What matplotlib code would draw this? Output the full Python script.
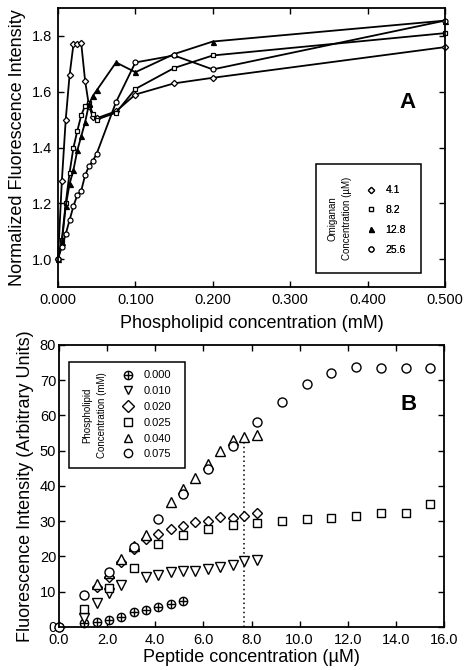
import matplotlib
matplotlib.use('Agg')
import matplotlib.pyplot as plt
from matplotlib.lines import Line2D
from matplotlib.patches import Rectangle

plt.rcParams['font.family'] = ['Liberation Sans', 'DejaVu Sans']

# ---- panel A data: normalized fluorescence vs phospholipid (mM)
lipid_a = [0.0, 0.005, 0.010, 0.015, 0.020, 0.025, 0.030, 0.035, 0.040, 0.045,
           0.050, 0.075, 0.100, 0.150, 0.200, 0.500]
a_41 = [1.00, 1.28, 1.50, 1.66, 1.77, 1.77, 1.775, 1.64, 1.55, 1.51,
        1.505, 1.53, 1.59, 1.63, 1.65, 1.76]
a_82 = [1.00, 1.07, 1.20, 1.31, 1.40, 1.46, 1.515, 1.55, 1.56, 1.52,
        1.50, 1.525, 1.61, 1.685, 1.73, 1.81]
a_128 = [1.00, 1.06, 1.19, 1.27, 1.32, 1.39, 1.44, 1.49, 1.555, 1.585,
         1.605, 1.705, 1.67, 1.735, 1.78, 1.855]
a_256 = [1.00, 1.045, 1.09, 1.14, 1.19, 1.23, 1.245, 1.30, 1.333, 1.352,
         1.378, 1.563, 1.705, 1.73, 1.68, 1.855]
a_labels = ['4.1', '8.2', '12.8', '25.6']

# ---- panel B data: fluorescence vs peptide (uM)
x_000 = [0.0, 1.05, 1.57, 2.07, 2.58, 3.10, 3.62, 4.13, 4.64, 5.16]
y_000 = [0.0, 1.0, 1.3, 2.0, 2.8, 4.2, 4.8, 5.8, 6.5, 7.5]
x_010 = [1.05, 1.57, 2.07, 2.58, 3.62, 4.13, 4.64, 5.16, 5.67, 6.18, 6.70, 7.21, 7.70, 8.24]
y_010 = [2.5, 6.9, 9.6, 12.0, 14.3, 14.8, 15.5, 15.8, 16.0, 16.5, 17.0, 17.7, 18.6, 19.1]
x_020 = [1.57, 2.07, 2.58, 3.10, 3.62, 4.13, 4.64, 5.16, 5.67, 6.18, 6.70, 7.21, 7.70, 8.24]
y_020 = [11.3, 14.3, 18.5, 22.2, 25.0, 26.3, 27.7, 28.7, 29.7, 30.2, 31.2, 31.0, 31.4, 32.2]
x_025 = [1.05, 2.07, 3.10, 4.13, 5.16, 6.18, 7.21, 8.24, 9.27, 10.29, 11.31, 12.34, 13.38, 14.41, 15.43]
y_025 = [5.0, 11.2, 16.7, 23.6, 26.2, 27.8, 28.8, 29.5, 30.0, 30.7, 31.0, 31.6, 32.2, 32.4, 34.8]
x_040 = [1.57, 2.07, 2.58, 3.10, 3.62, 4.64, 5.16, 5.67, 6.18, 6.70, 7.21, 7.70, 8.24]
y_040 = [12.3, 15.3, 19.3, 23.0, 26.0, 35.4, 39.2, 42.4, 46.3, 49.8, 53.1, 53.8, 54.4]
x_075 = [0.0, 1.05, 2.07, 3.10, 4.13, 5.16, 6.18, 7.21, 8.24, 9.27, 10.29, 11.31, 12.34, 13.38, 14.41, 15.43]
y_075 = [0.0, 9.1, 15.7, 22.8, 30.7, 37.6, 44.9, 51.4, 58.2, 63.7, 68.9, 72.1, 73.7, 73.4, 73.5, 73.5]
b_labels = ['0.000', '0.010', '0.020', '0.025', '0.040', '0.075']
mark_x = 7.70   # dotted guide line
mark_y = 53.6

fig = plt.figure(figsize=(4.71, 6.70), dpi=100, facecolor='white')
axA = fig.add_axes([0.1231, 0.5716, 0.8217, 0.4164])
axB = fig.add_axes([0.1253, 0.0642, 0.8174, 0.4209])

def style(ax):
    for s in ax.spines.values():
        s.set_linewidth(1.3)
    ax.tick_params(direction='in', top=True, right=True, length=4, width=1,
                   labelsize=10.5, pad=4)

# ---------------- panel A
mk = dict(color='black', lw=1.3, markeredgecolor='black', markeredgewidth=0.9)
series_a = [(a_41, 'D', 'white', 3.2), (a_82, 's', 'white', 3.4),
            (a_128, '^', 'black', 3.6), (a_256, 'o', 'white', 3.6)]
for ys, m, fc, ms in series_a:
    axA.plot(lipid_a, ys, marker=m, markerfacecolor=fc, markersize=ms, clip_on=False, **mk)

axA.set_xlim(0, 0.5)
axA.set_ylim(0.9, 1.9)
axA.set_xticks([0, 0.1, 0.2, 0.3, 0.4, 0.5])
axA.set_xticklabels(['0.000', '0.100', '0.200', '0.300', '0.400', '0.500'])
axA.set_yticks([1.0, 1.2, 1.4, 1.6, 1.8])
axA.set_xlabel('Phospholipid concentration (mM)', fontsize=13, labelpad=6)
axA.set_ylabel('Normalized Fluorescence Intensity', fontsize=13, labelpad=4)
style(axA)
axA.text(0.925, 0.66, 'A', transform=axA.transAxes, fontsize=16, fontweight='bold',
         ha='right', va='center')

axA.add_patch(Rectangle((0.667, 0.05), 0.271, 0.391, transform=axA.transAxes,
                        fill=False, lw=1.1, edgecolor='black'))
axA.text(0.728, 0.245, 'Omiganan\nConcentration (\u00b5M)', transform=axA.transAxes,
         rotation=90, ha='center', va='center', fontsize=7, linespacing=1.5)
hA = [Line2D([], [], ls='none', marker=m, markerfacecolor=fc, markeredgecolor='black',
             markeredgewidth=0.9, markersize=ms) for _, m, fc, ms in series_a]
legA = axA.legend(hA, a_labels, loc='center left', bbox_to_anchor=(0.795, 0.24),
                  frameon=False, fontsize=7.5, handlelength=1.0, handletextpad=0.9,
                  labelspacing=0.95, borderpad=0, borderaxespad=0)
axA.add_artist(legA)

# ---------------- panel B
ob = dict(ls='none', markerfacecolor='white', markeredgecolor='black',
          markeredgewidth=1.0, clip_on=False)
axB.plot([mark_x, mark_x], [0, mark_y], ls=(0, (1, 2)), color='black', lw=1.1)
axB.plot(x_000, y_000, marker='o', markersize=6, **ob)
axB.plot(x_000, y_000, ls='none', marker='+', markersize=6, color='black', markeredgewidth=1.0)
axB.plot(x_010, y_010, marker='v', markersize=6.5, **ob)
axB.plot(x_020, y_020, marker='D', markersize=5.5, **ob)
axB.plot(x_025, y_025, marker='s', markersize=5.5, **ob)
axB.plot(x_040, y_040, marker='^', markersize=6.5, **ob)
axB.plot(x_075, y_075, marker='o', markersize=6.5, **ob)

axB.set_xlim(0, 16)
axB.set_ylim(0, 80)
axB.set_xticks(range(0, 17, 2))
axB.set_xticklabels(['%.1f' % v for v in range(0, 17, 2)])
axB.set_yticks(range(0, 81, 10))
axB.set_xlabel('Peptide concentration (\u00b5M)', fontsize=13, labelpad=2)
axB.set_ylabel('Fluorescence Intensity (Arbitrary Units)', fontsize=13, labelpad=4)
style(axB)
axB.tick_params(axis='y', pad=2)
axB.text(0.93, 0.79, 'B', transform=axB.transAxes, fontsize=16, fontweight='bold',
         ha='right', va='center')

axB.add_patch(Rectangle((0.026, 0.564), 0.301, 0.376, transform=axB.transAxes,
                        fill=False, lw=1.1, edgecolor='black'))
axB.text(0.093, 0.752, 'Phospholipid\nConcentration (mM)', transform=axB.transAxes,
         rotation=90, ha='center', va='center', fontsize=7, linespacing=1.6)
plus = Line2D([], [], ls='none', marker='+', color='black', markersize=6)
circ = Line2D([], [], ls='none', marker='o', markerfacecolor='white',
              markeredgecolor='black', markersize=6)
hB = [(circ, plus)]
for m in ['v', 'D', 's', '^', 'o']:
    hB.append(Line2D([], [], ls='none', marker=m, markerfacecolor='white',
                     markeredgecolor='black', markeredgewidth=1.0, markersize=6))
axB.legend(hB, b_labels, loc='center left', bbox_to_anchor=(0.165, 0.752),
           frameon=False, fontsize=8, handlelength=1.0, handletextpad=0.9,
           labelspacing=0.52, borderpad=0, borderaxespad=0)

fig.savefig('out.png', dpi=100, facecolor='white')
